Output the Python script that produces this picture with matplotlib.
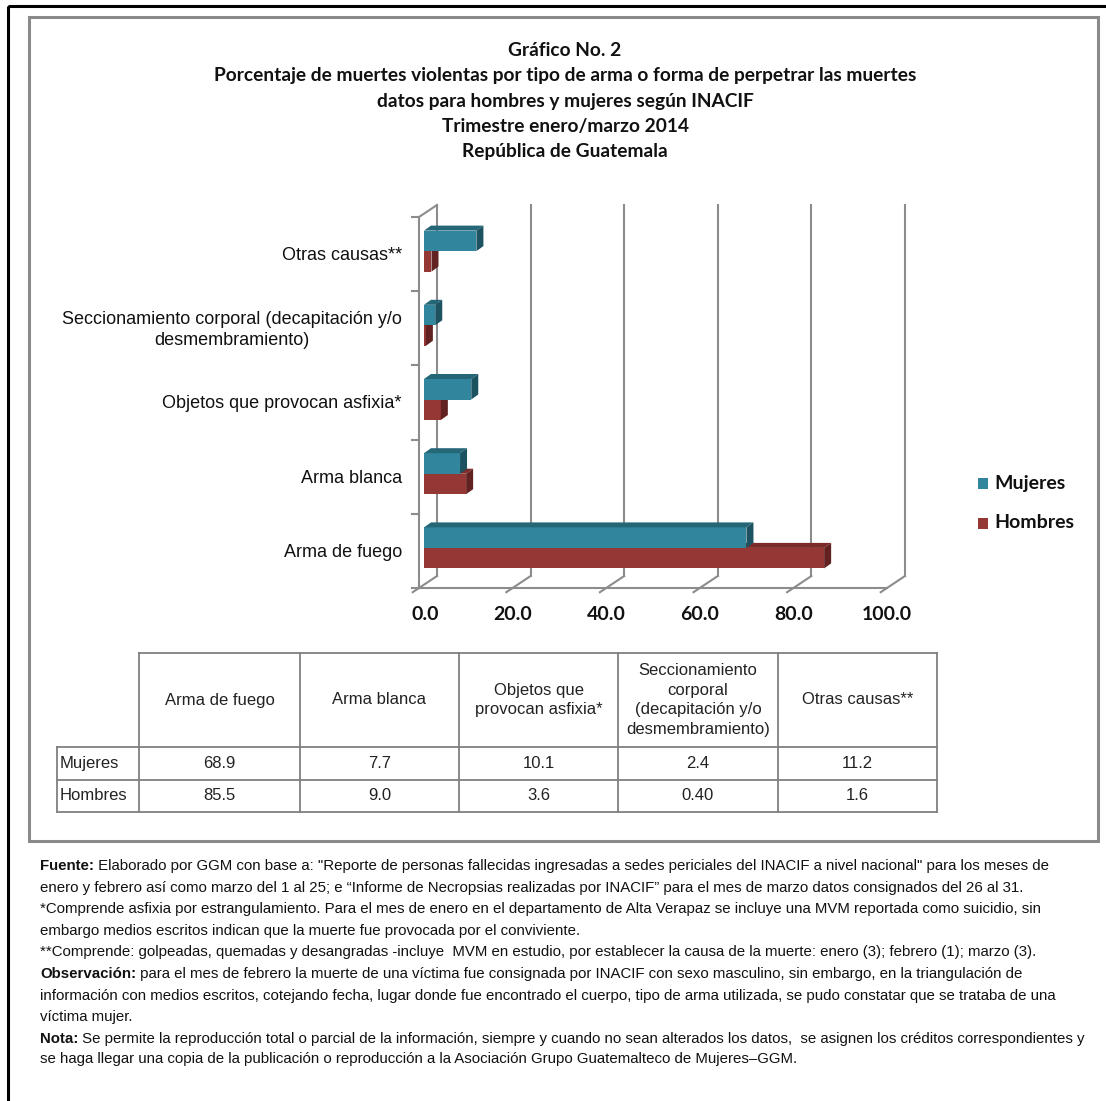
import matplotlib
matplotlib.use('Agg')
import matplotlib.pyplot as plt
from matplotlib.patches import Rectangle, Polygon
from matplotlib import font_manager

# ---------------- data ----------------
categories = ['Arma de fuego', 'Arma blanca', 'Objetos que provocan asfixia*',
              'Seccionamiento corporal (decapitación y/o\ndesmembramiento)', 'Otras causas**']
series_names = ['Mujeres', 'Hombres']
mujeres = [68.9, 7.7, 10.1, 2.4, 11.2]
hombres = [85.5, 9.0, 3.6, 0.40, 1.6]
mujeres_labels = ['68.9', '7.7', '10.1', '2.4', '11.2']
hombres_labels = ['85.5', '9.0', '3.6', '0.40', '1.6']
x_ticks = [0, 20, 40, 60, 80, 100]
table_headers = ['Arma de fuego', 'Arma blanca', 'Objetos que\nprovocan asfixia*',
                 'Seccionamiento\ncorporal\n(decapitación y/o\ndesmembramiento)', 'Otras causas**']
title_lines = ['Gráfico No. 2',
               'Porcentaje de muertes violentas por tipo de arma o forma de perpetrar las muertes',
               'datos para hombres y mujeres según INACIF',
               'Trimestre enero/marzo 2014',
               'República de Guatemala']
footnotes = [
    ('Fuente:', ' Elaborado por GGM con base a: "Reporte de personas fallecidas ingresadas a sedes periciales del INACIF a nivel nacional" para los meses de'),
    ('', 'enero y febrero así como marzo del 1 al 25; e “Informe de Necropsias realizadas por INACIF” para el mes de marzo datos consignados del 26 al 31.'),
    ('', '*Comprende asfixia por estrangulamiento. Para el mes de enero en el departamento de Alta Verapaz se incluye una MVM reportada como suicidio, sin'),
    ('', 'embargo medios escritos indican que la muerte fue provocada por el conviviente.'),
    ('', '**Comprende: golpeadas, quemadas y desangradas -incluye  MVM en estudio, por establecer la causa de la muerte: enero (3); febrero (1); marzo (3).'),
    ('Observación:', ' para el mes de febrero la muerte de una víctima fue consignada por INACIF con sexo masculino, sin embargo, en la triangulación de'),
    ('', 'información con medios escritos, cotejando fecha, lugar donde fue encontrado el cuerpo, tipo de arma utilizada, se pudo constatar que se trataba de una'),
    ('', 'víctima mujer.'),
    ('Nota:', ' Se permite la reproducción total o parcial de la información, siempre y cuando no sean alterados los datos,  se asignen los créditos correspondientes y'),
    ('', 'se haga llegar una copia de la publicación o reproducción a la Asociación Grupo Guatemalteco de Mujeres–GGM.'),
]

# ---------------- styles ----------------
W, H = 1106, 1101
MUJ_FRONT, MUJ_TOP, MUJ_SIDE = '#31859C', '#256677', '#1D5261'
HOM_FRONT, HOM_TOP, HOM_SIDE = '#953735', '#7A2B2A', '#612221'
GRID = '#8C8C8C'
names = {f.name for f in font_manager.fontManager.ttflist}
NARROW = 'Liberation Sans Narrow' in names
FOOT_FAM = 'Liberation Sans Narrow' if NARROW else 'Liberation Sans'
FOOT_SIZE = 12.6 if NARROW else 10.8
TITLE_FAM = 'Lato'

fig = plt.figure(figsize=(W / 100, H / 100), dpi=100)
bg = fig.add_axes([0, 0, 1, 1])
bg.set_xlim(0, W)
bg.set_ylim(H, 0)
bg.axis('off')

# frames
bg.add_patch(Rectangle((8, 6), 1110, 1110, fill=False, edgecolor='black', lw=2.2))
bg.add_patch(Rectangle((29, 17), 1069, 824, fill=False, edgecolor='#8A8A8A', lw=2.2))

# title
for k, line in enumerate(title_lines):
    bg.text(565, 50 + 25.5 * k, line, ha='center', va='center', fontsize=13.8,
            family=TITLE_FAM, weight='bold', color='#111111')

# ---------------- chart ----------------
x0p, x1p, ytp, ybp = 419, 887, 217, 588
ax = fig.add_axes([x0p / W, 1 - ybp / H, (x1p - x0p) / W, (ybp - ytp) / H])
ax.set_xlim(0, 100)
ax.set_ylim(-0.5, len(categories) - 0.5)
ax.axis('off')
PX_X = (x1p - x0p) / 100.0
PX_Y = (ybp - ytp) / len(categories)


def off(dxp, dyp):
    return dxp / PX_X, -dyp / PX_Y


bar_dx, bar_dy = off(5, -3)
back_dx, back_dy = off(18, -12)
dep_dx, dep_dy = off(7, -5)
bh = 20.5 / PX_Y
top_c = len(categories) - 0.5
glw = 1.5

for v in x_ticks:
    ax.plot([v + back_dx] * 2, [-0.5 + back_dy, top_c + back_dy], color=GRID, lw=glw, zorder=1, clip_on=False)
    ax.plot([v - 0.35 * back_dx, v + back_dx], [-0.5 - 0.35 * back_dy, -0.5 + back_dy], color=GRID, lw=glw, zorder=1, clip_on=False)
    ax.text(v + (6 if v == 0 else 0) / PX_X, -0.5 - 27 / PX_Y, f'{v:.1f}', ha='center', va='center', fontsize=14,
            family=TITLE_FAM, weight='bold', color='#111111')
ax.plot([0, 100], [-0.5, -0.5], color=GRID, lw=glw, zorder=1, clip_on=False)
ax.plot([0, 0], [-0.5, top_c], color=GRID, lw=glw, zorder=1, clip_on=False)
ax.plot([0, back_dx], [top_c, top_c + back_dy], color=GRID, lw=glw, zorder=1, clip_on=False)
for b in range(len(categories) + 1):
    ax.plot([-7 / PX_X, 0], [b - 0.5, b - 0.5], color=GRID, lw=glw, zorder=1, clip_on=False)

specs = [(hombres, -bh, HOM_FRONT, HOM_TOP, HOM_SIDE, 3),
         (mujeres, 0.0, MUJ_FRONT, MUJ_TOP, MUJ_SIDE, 5)]
for vals, yoff, cf, ct, cs, z in specs:
    ys = [i + bar_dy + yoff for i in range(len(vals))]
    ax.barh(ys, vals, height=bh, left=bar_dx, align='edge', color=cf, edgecolor='none', zorder=z)
    for y0, v in zip(ys, vals):
        xa, xb, y1 = bar_dx, bar_dx + v, y0 + bh
        ax.add_patch(Polygon([(xa, y1), (xb, y1), (xb + dep_dx, y1 + dep_dy), (xa + dep_dx, y1 + dep_dy)],
                             closed=True, facecolor=ct, edgecolor='none', zorder=z))
        ax.add_patch(Polygon([(xb, y0), (xb + dep_dx, y0 + dep_dy), (xb + dep_dx, y1 + dep_dy), (xb, y1)],
                             closed=True, facecolor=cs, edgecolor='none', zorder=z))

for i, lab in enumerate(categories):
    ax.text(-17 / PX_X, i + 1.5 / PX_Y * (-1), lab, ha='right', va='center', multialignment='center', fontsize=13,
            family='Liberation Sans', color='#111111', linespacing=1.3, clip_on=False)

# legend
for k, (name, col) in enumerate(zip(series_names, [MUJ_FRONT, HOM_FRONT])):
    yc = 483 + 40 * k
    bg.add_patch(Rectangle((978, yc - 5.5), 10, 11, facecolor=col, edgecolor='none'))
    bg.text(994, yc, name, ha='left', va='center', fontsize=14, family=TITLE_FAM,
            weight='bold', color='#111111')

# ---------------- table ----------------
cols = [57, 139, 300, 459, 618, 778, 937]
rows = [653, 747, 780, 812]
TC = '#808080'
tlw = 1.3
bg.plot([cols[1], cols[-1]], [rows[0], rows[0]], color=TC, lw=tlw)
for yy in rows[1:]:
    bg.plot([cols[0], cols[-1]], [yy, yy], color=TC, lw=tlw)
bg.plot([cols[0], cols[0]], [rows[1], rows[3]], color=TC, lw=tlw)
for xx in cols[1:]:
    bg.plot([xx, xx], [rows[0], rows[3]], color=TC, lw=tlw)
TFONT = dict(fontsize=12, family='Liberation Sans', color='#222222')
for j, hdr in enumerate(table_headers):
    xc = (cols[j + 1] + cols[j + 2]) / 2
    bg.text(xc, (rows[0] + rows[1]) / 2, hdr, ha='center', va='center', multialignment='center',
            linespacing=1.4, **TFONT)
for r, (name, labs) in enumerate(zip(series_names, [mujeres_labels, hombres_labels])):
    yc = (rows[r + 1] + rows[r + 2]) / 2
    bg.text(cols[0] + 3, yc, name, ha='left', va='center', **TFONT)
    for j, s in enumerate(labs):
        xc = (cols[j + 1] + cols[j + 2]) / 2
        bg.text(xc, yc, s, ha='center', va='center', **TFONT)

# ---------------- footnotes ----------------
FOOT = dict(fontsize=FOOT_SIZE, family=FOOT_FAM, color='#111111')
ylines = [866 + 21.6 * k for k in range(9)] + [866 + 21.6 * 8 + 20.5]
for (bold, reg), yy in zip(footnotes, ylines):
    if bold:
        t = bg.text(40, yy, bold, ha='left', va='center', weight='bold', **FOOT)
        bg.annotate(reg, xy=(1, 0), xycoords=t, ha='left', va='bottom', **FOOT)
    else:
        bg.text(40, yy, reg, ha='left', va='center', **FOOT)

fig.savefig('out.png', dpi=100)
